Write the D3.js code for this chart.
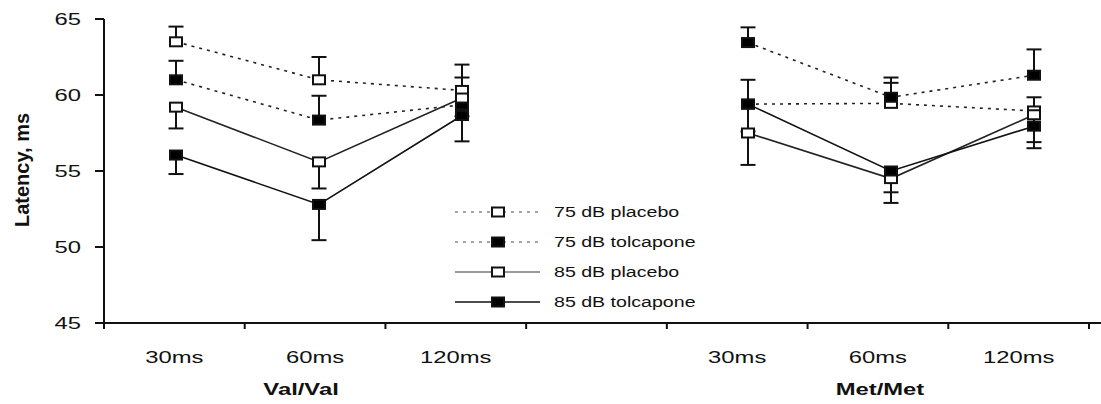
<!DOCTYPE html>
<html>
<head>
<meta charset="utf-8">
<script src="https://d3js.org/d3.v7.min.js"></script>
<style>
body {margin:0; background:white;}
svg {font-family: "Liberation Sans", Arial, sans-serif; display:block;}
</style>
</head>
<body>
<svg width="1101" height="404"></svg>
<script>
// data
var groups = ["Val/Val", "Met/Met"];
var intervals = ["30ms", "60ms", "120ms"];
var slots = ["v30", "v60", "v120", "gap", "m30", "m60", "m120"];
var seriesNames = ["75 dB placebo", "75 dB tolcapone", "85 dB placebo", "85 dB tolcapone"];
var yTicks = [45, 50, 55, 60, 65];

// Val 30, 60, 120, Met 30, 60, 120
var placebo75   = [63.5, 61.0, 60.3, 59.4, 59.45, 58.95];
var tolcapone75 = [61.0, 58.35, 59.35, 63.45, 59.85, 61.3];
var placebo85   = [59.2, 55.6, 59.8, 57.5, 54.5, 58.7];
var tolcapone85 = [56.05, 52.8, 58.65, 59.4, 55.0, 57.95];

var errPlacebo75   = [1.0, 1.5, 1.7, 1.6, 1.35, 0.9];
var errTolcapone75 = [1.25, 1.6, 1.8, 1.0, 1.3, 1.7];
var errPlacebo85   = [1.4, 1.75, 1.2, 2.1, 1.6, 1.8];
var errTolcapone85 = [1.25, 2.35, 1.7, 1.8, 1.4, 1.45];

var pointSlots = ["v30", "v60", "v120", "m30", "m60", "m120"];

var svg = d3.select("svg");
var sx = 1.4; // the figure is stretched sideways

var y = d3.scaleLinear().domain([45, 65]).range([323, 19]);
var xBand = d3.scaleBand().domain(slots).range([104, 1089]);
var xPt = d3.scalePoint().domain(slots).range([176, 1034]);

var series = [
  {name: seriesNames[0], v: placebo75, e: errPlacebo75, up: true, fill: "white", dash: "3,5", lc: "#222"},
  {name: seriesNames[1], v: tolcapone75, e: errTolcapone75, up: true, fill: "black", dash: "3,5", lc: "#222"},
  {name: seriesNames[2], v: placebo85, e: errPlacebo85, up: false, fill: "white", dash: null, lc: "#222"},
  {name: seriesNames[3], v: tolcapone85, e: errTolcapone85, up: false, fill: "black", dash: null, lc: "#111"}
];

function stretchText(g, x, yy, txt, size, anchor, bold) {
  return g.append("text")
    .attr("transform", "translate(" + x + "," + yy + ") scale(" + sx + ",1)")
    .attr("text-anchor", anchor)
    .style("font-size", size + "px")
    .style("font-weight", bold ? "bold" : "normal")
    .attr("fill", "#111")
    .text(txt);
}

// y axis
var yAxis = svg.append("g");
yAxis.append("line").attr("x1", 104).attr("x2", 104).attr("y1", y(65)).attr("y2", y(45))
  .attr("stroke", "#111").attr("stroke-width", 2);
yTicks.forEach(function(t) {
  yAxis.append("line").attr("x1", 95).attr("x2", 104).attr("y1", y(t)).attr("y2", y(t))
    .attr("stroke", "#111").attr("stroke-width", 2);
  stretchText(yAxis, 81, y(t) + 6, t, 17, "end", false);
});

// x axis
var xAxis = svg.append("g");
xAxis.append("line").attr("x1", 95).attr("x2", 1101).attr("y1", y(45)).attr("y2", y(45))
  .attr("stroke", "#111").attr("stroke-width", 2);
slots.concat(["end"]).forEach(function(s, i) {
  var xx = i < slots.length ? xBand(s) : xBand.range()[1];
  xAxis.append("line").attr("x1", xx).attr("x2", xx).attr("y1", y(45)).attr("y2", y(45) + 6)
    .attr("stroke", "#111").attr("stroke-width", 2);
});
pointSlots.forEach(function(s, i) {
  stretchText(xAxis, xBand(s) + xBand.bandwidth() / 2, 363, intervals[i % 3], 17, "middle", false);
});
stretchText(xAxis, xBand("v60") + xBand.bandwidth() / 2 - 14, 395, groups[0], 17, "middle", true);
stretchText(xAxis, xBand("m60") + xBand.bandwidth() / 2 + 2, 395, groups[1], 17, "middle", true);

svg.append("text")
  .attr("transform", "translate(29,170) rotate(-90)")
  .attr("text-anchor", "middle")
  .style("font-size", "20px").style("font-weight", "bold").attr("fill", "#111")
  .text("Latency, ms");

// lines, one segment set per genotype
var line = d3.line().x(function(d) { return xPt(d.s); }).y(function(d) { return y(d.v); });
series.forEach(function(sr) {
  [0, 1].forEach(function(gi) {
    var pts = [0, 1, 2].map(function(k) {
      return {s: pointSlots[gi * 3 + k], v: sr.v[gi * 3 + k]};
    });
    svg.append("path").datum(pts).attr("d", line)
      .attr("fill", "none").attr("stroke", sr.lc).attr("stroke-width", 1.6)
      .attr("stroke-dasharray", sr.dash);
  });
});

// error bars
series.forEach(function(sr) {
  sr.v.forEach(function(v, i) {
    var xx = xPt(pointSlots[i]);
    var end = sr.up ? v + sr.e[i] : v - sr.e[i];
    svg.append("line").attr("x1", xx).attr("x2", xx).attr("y1", y(v)).attr("y2", y(end))
      .attr("stroke", "#111").attr("stroke-width", 2);
    svg.append("line").attr("x1", xx - 7.5).attr("x2", xx + 7.5).attr("y1", y(end)).attr("y2", y(end))
      .attr("stroke", "#111").attr("stroke-width", 2);
  });
});

// markers
series.forEach(function(sr) {
  svg.append("g").selectAll("rect").data(sr.v).enter().append("rect")
    .attr("x", function(d, i) { return xPt(pointSlots[i]) - 6; })
    .attr("y", function(d) { return y(d) - 4.5; })
    .attr("width", 12).attr("height", 9)
    .attr("fill", sr.fill).attr("stroke", "#111").attr("stroke-width", 2);
});

// legend
var leg = svg.append("g");
series.forEach(function(sr, i) {
  var ly = 212 + i * 30;
  leg.append("line").attr("x1", 455).attr("x2", 540).attr("y1", ly).attr("y2", ly)
    .attr("stroke", i == 2 ? "#777" : (sr.dash ? "#888" : "#111")).attr("stroke-width", 1.6)
    .attr("stroke-dasharray", sr.dash);
  leg.append("rect").attr("x", 492).attr("y", ly - 4.5).attr("width", 12).attr("height", 9)
    .attr("fill", sr.fill).attr("stroke", "#111").attr("stroke-width", 2);
  stretchText(leg, 554, ly + 5, sr.name, 14, "start", false);
});
</script>
</body>
</html>
